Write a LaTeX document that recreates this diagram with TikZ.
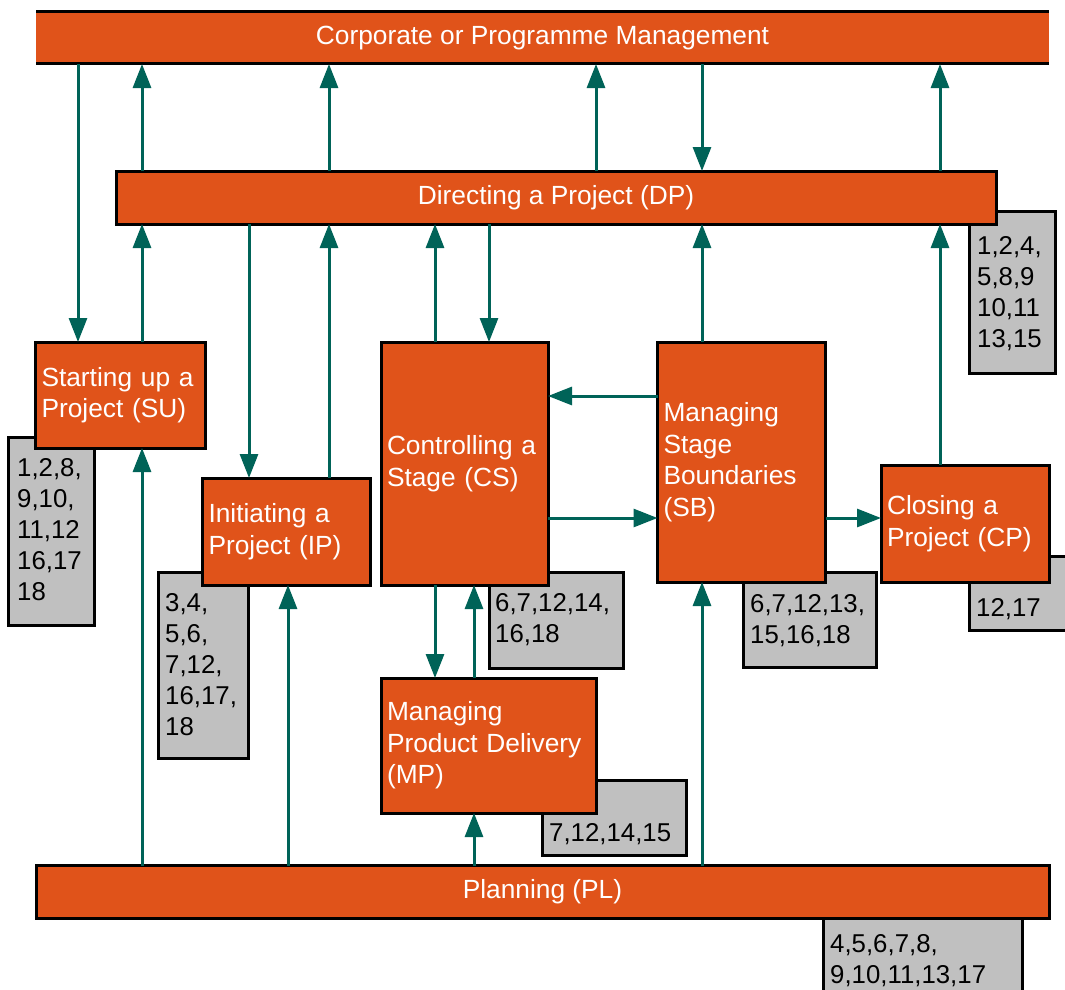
\documentclass[tikz,border=0pt]{standalone}
\usepackage{fontspec}
\setmainfont{Liberation Sans}
\usetikzlibrary{arrows.meta}
\definecolor{org}{HTML}{E0531A}
\definecolor{tl}{HTML}{006358}
\definecolor{gry}{HTML}{C0C0C0}
\tikzset{
  obox/.style={draw=black, line width=3pt, fill=org, text=white,
    font=\fontsize{26.3}{31.5}\selectfont, align=left, inner xsep=6pt, inner ysep=0pt, outer sep=0pt},
  cbox/.style={draw=black, line width=3pt, fill=org, text=white,
    font=\fontsize{26.3}{31.5}\selectfont, align=center, inner sep=0pt, outer sep=0pt},
  gbox/.style={draw=black, line width=3pt, fill=gry, inner sep=0pt, outer sep=0pt},
  gtext/.style={font=\fontsize{25.8}{31}\selectfont, align=left, inner sep=0pt, anchor=north west},
  arr/.style={draw=tl, line width=3pt, -{Triangle[length=24pt,width=18pt]}},
}
\begin{document}
\begin{tikzpicture}[x=1pt,y=-1pt]
\useasboundingbox (0,0) rectangle (1065,990);
\clip (0,0) rectangle (1065,990);
\fill[white] (0,0) rectangle (1065,990);

% column / row coordinates
\foreach \xx in {78,142,249,288,329,435,474,489,596,702,940}{\coordinate (x\xx) at (\xx,0);}
\coordinate (y396) at (0,396);
\coordinate (y518) at (0,518);

% gray reference boxes (under the orange boxes)
\node[gbox, minimum width=86pt, minimum height=188pt] (sug) at (51,531) {};
\node[gbox, minimum width=90pt, minimum height=186pt] (ipg) at (203,665) {};
\node[gbox, minimum width=134pt, minimum height=96pt] (csg) at (556,620) {};
\node[gbox, minimum width=133pt, minimum height=95pt] (sbg) at (809.5,619.5) {};
\node[gbox, minimum width=86pt, minimum height=162pt] (dpg) at (1012,292) {};
\node[gbox, minimum width=110pt, minimum height=74pt] (cpg) at (1024,593) {};
\node[gbox, minimum width=144pt, minimum height=75pt] (mpg) at (614,817.5) {};
\node[gbox, minimum width=199pt, minimum height=100pt] (plg) at (922.5,968) {};

\node[gtext] (sut) at (17,458) {1,2,8,\\9,10,\\11,12\\16,17\\18};
\node[gtext] (ipt) at (165,593) {3,4,\\5,6,\\7,12,\\16,17,\\18};
\node[gtext] (cst) at (495,593) {6,7,12,14,\\16,18};
\node[gtext] (sbt) at (750,594) {6,7,12,13,\\15,16,18};
\node[gtext] (dpt) at (977,236) {1,2,4,\\5,8,9\\10,11\\13,15};
\node[gtext] (cpt) at (976,598) {12,17};
\node[gtext] (mpt) at (549,823) {7,12,14,15};
\node[gtext] (plt) at (830,934) {4,5,6,7,8,\\9,10,11,13,17};

% corporate bar
\node[fill=org, text=white, font=\fontsize{26.3}{31.5}\selectfont, inner sep=0pt, outer sep=0pt,
  minimum width=1013pt, minimum height=52pt] (corp) at (542.5,38) {Corporate or Programme Management};
\draw[line width=3pt] (corp.north west) -- (corp.north east);
\draw[line width=3pt] (corp.south west) -- (corp.south east);

% process boxes
\node[cbox, minimum width=880pt, minimum height=53pt] (dp) at (556,197.5) {Directing a Project (DP)};
\node[obox, minimum width=170pt, minimum height=106pt, text width=158pt] (su) at (120.5,395) {Starting up a\\Project (SU)};
\node[obox, minimum width=168pt, minimum height=107pt, text width=156pt] (ip) at (286.5,531.5) {Initiating a\\Project (IP)};
\node[obox, minimum width=167pt, minimum height=243pt, text width=155pt] (cs) at (464.5,463.5) {Controlling a\\Stage (CS)};
\node[obox, minimum width=168pt, minimum height=240pt, text width=156pt] (sb) at (741.5,462) {Managing\\Stage\\Boundaries\\(SB)};
\node[obox, minimum width=168pt, minimum height=117pt, text width=156pt] (cp) at (965,523.5) {Closing a\\Project (CP)};
\node[obox, minimum width=215pt, minimum height=135pt, text width=203pt] (mp) at (488.5,745.5) {Managing\\Product Delivery\\(MP)};
\node[cbox, minimum width=1013pt, minimum height=53pt] (pl) at (542.5,892) {Planning (PL)};

% connectors
\draw[arr] (corp.south -| x78) -- (su.north -| x78);
\draw[arr] (dp.north -| x142) -- (corp.south -| x142);
\draw[arr] (dp.north -| x329) -- (corp.south -| x329);
\draw[arr] (dp.north -| x596) -- (corp.south -| x596);
\draw[arr] (corp.south -| x702) -- (dp.north -| x702);
\draw[arr] (dp.north -| x940) -- (corp.south -| x940);
\draw[arr] (su.north -| x142) -- (dp.south -| x142);
\draw[arr] (dp.south -| x249) -- (ip.north -| x249);
\draw[arr] (ip.north -| x329) -- (dp.south -| x329);
\draw[arr] (cs.north -| x435) -- (dp.south -| x435);
\draw[arr] (dp.south -| x489) -- (cs.north -| x489);
\draw[arr] (sb.north -| x702) -- (dp.south -| x702);
\draw[arr] (cp.north -| x940) -- (dp.south -| x940);
\draw[arr] (sb.west |- y396) -- (cs.east |- y396);
\draw[arr] (cs.east |- y518) -- (sb.west |- y518);
\draw[arr] (sb.east |- y518) -- (cp.west |- y518);
\draw[arr] (pl.north -| x142) -- (su.south -| x142);
\draw[arr] (pl.north -| x288) -- (ip.south -| x288);
\draw[arr] (cs.south -| x435) -- (mp.north -| x435);
\draw[arr] (mp.north -| x474) -- (cs.south -| x474);
\draw[arr] (pl.north -| x474) -- (mp.south -| x474);
\draw[arr] (pl.north -| x702) -- (sb.south -| x702);
\end{tikzpicture}
\end{document}
